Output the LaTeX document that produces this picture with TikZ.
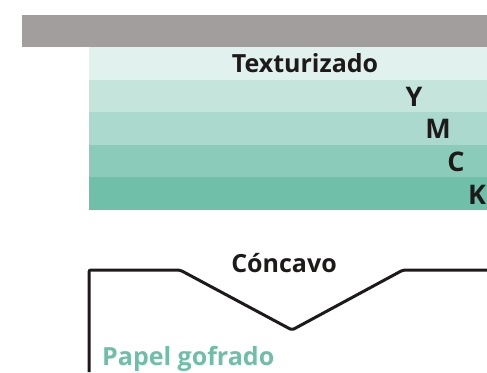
\documentclass[tikz,border=0pt]{standalone}
\usepackage{fontspec}
\setmainfont{Open Sans}
\usetikzlibrary{positioning}
\definecolor{bargray}{RGB}{162,158,157}
\definecolor{tintA}{RGB}{225,242,238}
\definecolor{tintB}{RGB}{197,229,220}
\definecolor{tintC}{RGB}{171,217,205}
\definecolor{tintD}{RGB}{139,203,186}
\definecolor{tintE}{RGB}{111,191,169}
\definecolor{inkgreen}{RGB}{111,191,168}
\definecolor{ink}{RGB}{30,26,26}

\begin{document}
\begin{tikzpicture}[
    x=1pt, y=-1pt,
    band/.style={minimum width=398pt, minimum height=32.6pt, inner sep=0pt, outer sep=0pt, anchor=north west},
    lbl/.style={inner sep=0pt, anchor=base, font=\fontsize{25}{25}\selectfont\bfseries, text=ink},
    chan/.style={lbl, font=\fontsize{27}{27}\selectfont\bfseries},
    profile/.style={draw=ink, line width=3pt, rounded corners=2pt},
]
    \useasboundingbox (0,0) rectangle (487,372);
    \fill[bargray] (22,15) rectangle (487,47.4);

    % tint bands
    \foreach \col [count=\i from 0] in {tintA,tintB,tintC,tintD,tintE}
        \node[band, fill=\col] (b\i) at (89,{47+32.6*\i}) {};

    \node[lbl] (tex) at (305,72) {Texturizado};
    \node[chan] (ly) at (414,106) {Y};
    \node[chan] (lm) at (438,138) {M};
    \node[chan] (lc) at (456,171) {C};
    \node[chan] (lk) at (477,204) {K};

    % embossing profile
    \draw[profile] (89,372) -- (89,270) -- (180,270) -- (292,330) -- (403,270) -- (487,270);
    \node[lbl] (conc) at (284,272) {Cóncavo};
    \node[lbl, anchor=base west, text=inkgreen] (paper) at (102,365) {Papel gofrado};
\end{tikzpicture}
\end{document}
